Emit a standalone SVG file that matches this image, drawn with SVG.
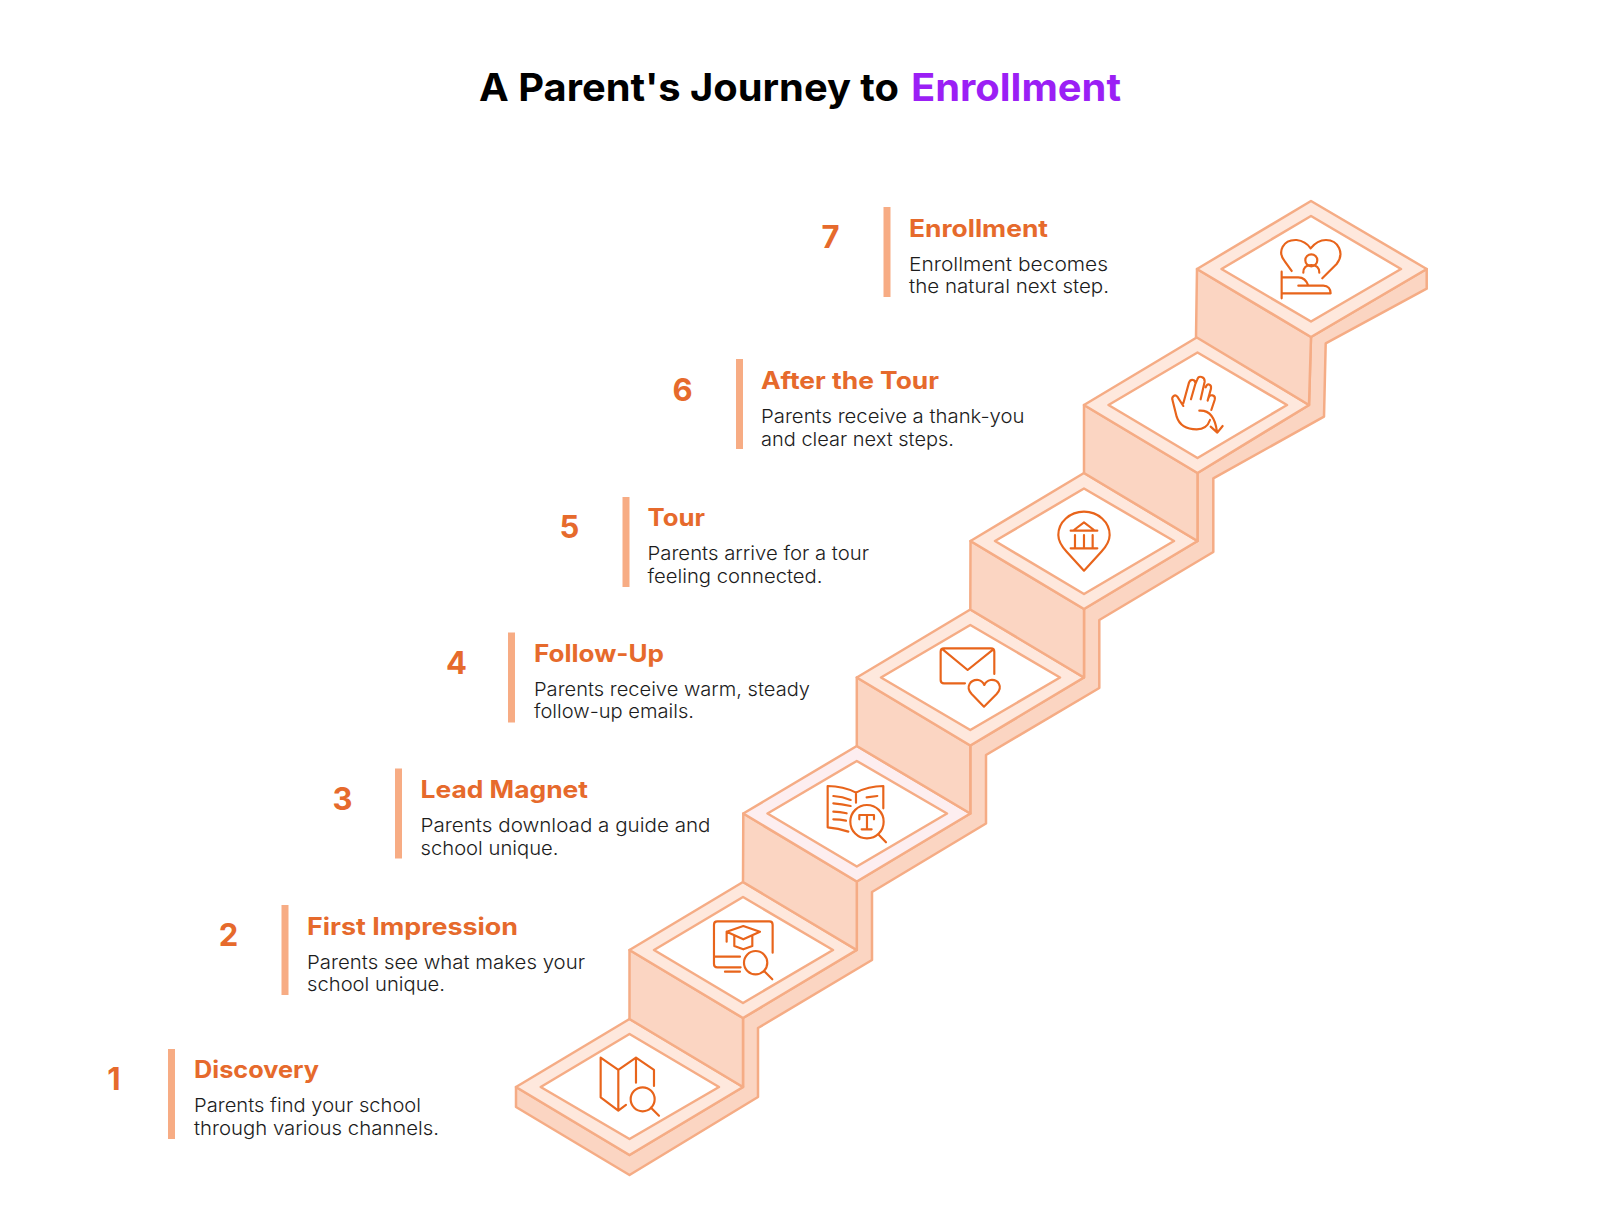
<svg xmlns="http://www.w3.org/2000/svg" width="1600" height="1223" viewBox="0 0 1600 1223">
<style>
text{font-family:Inter,"Liberation Sans",sans-serif}
.t{font-size:38px;font-weight:700}
.n{font-size:31px;font-weight:700;fill:#E66A2C;text-anchor:middle}
.h{font-size:24px;font-weight:700;fill:#E66A2C}
.b{font-size:19px;font-weight:300;fill:#1c1c1c}
.bar{fill:#F7AC84}
.s{stroke:#F5AC85;stroke-width:2.5;stroke-linejoin:round}
.w{fill:#FBD5C2}
.r{fill:#FEE8DD}
.i{fill:#fff}
.ic{fill:none;stroke:#E8641B;stroke-width:6.5;stroke-linecap:round;stroke-linejoin:round}
</style>
<rect width="1600" height="1223" fill="#fff"/>
<g id="title"><text class="t" x="479" y="101" textLength="420" lengthAdjust="spacingAndGlyphs" fill="#000">A Parent's Journey to</text><text class="t" x="911" y="101" textLength="210" lengthAdjust="spacingAndGlyphs" fill="#9B1FF5">Enrollment</text></g>
<g id="stair-side"><path class="s w" d="M516 1087V1107L629.500 1175L758 1097V1028L872 960V892L986 823.500V755L1099.300 688V620L1213.300 552V478.300L1324 416.700L1325.700 343.300L1426.700 288.700V269L1311 337L1309 405L1197.500 473V541L1084 609V677.500L970.300 745.500V813.500L856.800 881.500V950L743 1018V1087L629.500 1155Z"/></g>

<g id="step-1">
<path class="s r" d="M516 1087L629.500 1019L743 1087L629.500 1155Z"/><path class="s i" d="M540.700 1087L629.500 1034L719 1087L629.500 1139Z"/>
<g class="ic" transform="translate(500 880) scale(.3333)"><path d="M378 675L355 692L302 652V533L355 570V692M355 570L408 533L462 570V618M408 533V608"/><circle cx="428" cy="658" r="36"/><path d="M453 683L477 707"/></g>
<rect class="bar" x="168" y="1049" width="7" height="90"/>
<text class="n" x="114" y="1090">1</text>
<text class="h" x="194" y="1078" textLength="125" lengthAdjust="spacingAndGlyphs">Discovery</text>
<text class="b" x="194" y="1112" textLength="227" lengthAdjust="spacingAndGlyphs">Parents find your school</text>
<text class="b" x="194" y="1135" textLength="245" lengthAdjust="spacingAndGlyphs">through various channels.</text>
</g>

<g id="step-2">
<path class="s w" d="M629.500 950L743 1018V1087L629.500 1019Z"/>
<path class="s r" d="M629.500 950L743 882L856.500 950L743 1018Z"/><path class="s i" d="M654 950L743 897L833 950L743 1003Z"/>
<g class="ic" transform="translate(500 880) scale(.3333)"><path d="M818 218V134Q818 124 808 124H652Q642 124 642 134V252Q642 262 652 262H722M645 230H720M675 275H720M680 185V155L730 138L780 155L730 178L680 155M703 168V198L730 208L757 198V168"/><circle cx="767" cy="248" r="35"/><path d="M793 274L817 298"/></g>
<rect class="bar" x="281.500" y="905" width="7" height="90"/>
<text class="n" x="228.500" y="946">2</text>
<text class="h" x="307" y="934.500" textLength="211" lengthAdjust="spacingAndGlyphs">First Impression</text>
<text class="b" x="307" y="968.500" textLength="278" lengthAdjust="spacingAndGlyphs">Parents see what makes your</text>
<text class="b" x="307" y="991" textLength="138" lengthAdjust="spacingAndGlyphs">school unique.</text>
</g>

<g id="step-3">
<path class="s w" d="M743.300 813.500L856.800 881.500V950L743 882Z"/>
<path class="s" fill="#FDEEF0" d="M743.300 813.500L856.800 746L970.300 813.500L856.800 881.500Z"/><path class="s i" d="M767.500 813.500L856.800 761L947 813.500L856.800 866.500Z"/>
<g class="ic" transform="translate(720 620) scale(.3333)"><path d="M385 635Q355 625 323 622V498Q370 498 408 518Q445 498 490 498V565M408 518V548M340 528Q368 530 392 540M340 550Q365 552 392 558M340 575Q360 575 380 580M340 598Q360 598 378 602M440 532L472 528M418 598V585H462V598M441 585V628M425 628H455"/><circle cx="441" cy="605" r="50"/><path d="M477 645L498 667"/></g>
<rect class="bar" x="395" y="768.500" width="7" height="90"/>
<text class="n" x="342.500" y="809.500">3</text>
<text class="h" x="420.500" y="798" textLength="167.500" lengthAdjust="spacingAndGlyphs">Lead Magnet</text>
<text class="b" x="420.500" y="831.500" textLength="290" lengthAdjust="spacingAndGlyphs">Parents download a guide and</text>
<text class="b" x="420.500" y="854.500" textLength="138" lengthAdjust="spacingAndGlyphs">school unique.</text>
</g>

<g id="step-4">
<path class="s w" d="M856.800 677.500L970.300 745.500V813.500L856.800 746Z"/>
<path class="s r" d="M856.800 677.500L970.300 609.500L1083.800 677.500L970.300 745.500Z"/><path class="s i" d="M881 677.500L970.300 625L1060 677.500L970.300 730Z"/>
<g class="ic" transform="translate(720 620) scale(.3333)"><path d="M735 190H672Q662 190 662 180V95Q662 85 672 85H813Q823 85 823 95V162M668 88L743 150L820 88M792 260L755 222C735 200 752 178 775 180C785 182 790 188 793 195C796 188 802 182 812 180C835 178 850 200 830 222Z"/></g>
<rect class="bar" x="508" y="632.500" width="7" height="90"/>
<text class="n" x="456.500" y="673.500">4</text>
<text class="h" x="534" y="661.500" textLength="130" lengthAdjust="spacingAndGlyphs">Follow-Up</text>
<text class="b" x="534" y="695.500" textLength="276" lengthAdjust="spacingAndGlyphs">Parents receive warm, steady</text>
<text class="b" x="534" y="718" textLength="160" lengthAdjust="spacingAndGlyphs">follow-up emails.</text>
</g>

<g id="step-5">
<path class="s w" d="M970.500 541L1084 609V677.500L970.300 609.500Z"/>
<path class="s r" d="M970.500 541L1084 473L1197.500 541L1084 609Z"/><path class="s i" d="M995 541L1084 488.500L1174 541L1084 594Z"/>
<g class="ic" transform="translate(950 450) scale(.3333)"><path d="M402 362L350 305C333 287 325 272 325 255A77 70 0 0 1 479 255C479 272 471 287 454 305ZM362 242H442M372 240L402 217L432 240M375 255V292M402 255V292M428 255V292M362 295H442"/></g>
<rect class="bar" x="622.500" y="497" width="7" height="90"/>
<text class="n" x="569.500" y="538">5</text>
<text class="h" x="647.500" y="526" textLength="57.500" lengthAdjust="spacingAndGlyphs">Tour</text>
<text class="b" x="647.500" y="560" textLength="221.500" lengthAdjust="spacingAndGlyphs">Parents arrive for a tour</text>
<text class="b" x="647.500" y="582.500" textLength="175" lengthAdjust="spacingAndGlyphs">feeling connected.</text>
</g>

<g id="step-6">
<path class="s w" d="M1084 405L1197.500 473V541L1084 473Z"/>
<path class="s r" d="M1084 405L1197.500 337L1309 405L1197.500 473Z"/><path class="s i" d="M1108.500 405L1197.500 352.500L1287 405L1197.500 458Z"/>
<g class="ic" transform="translate(1040 190) scale(.3333)"><path d="M430 648L412 620C405 612 393 620 398 632L410 680C418 705 440 718 470 718C492 718 505 705 510 690M430 640L447 578C452 565 468 568 466 582L453 628M466 582L472 568C476 555 495 560 494 575L482 628M497 592C502 578 515 582 513 596L503 632M505 625C510 610 528 615 524 630L514 660M478 662C505 660 525 680 531 725M512 710L532 728L548 708"/></g>
<rect class="bar" x="736" y="359" width="7" height="90"/>
<text class="n" x="682.500" y="401">6</text>
<text class="h" x="761" y="389" textLength="178" lengthAdjust="spacingAndGlyphs">After the Tour</text>
<text class="b" x="761" y="423" textLength="263.500" lengthAdjust="spacingAndGlyphs">Parents receive a thank-you</text>
<text class="b" x="761" y="446" textLength="193" lengthAdjust="spacingAndGlyphs">and clear next steps.</text>
</g>

<g id="step-7">
<path class="s w" d="M1197 269L1311 337L1309 405L1196 337Z"/>
<path class="s r" d="M1197 269L1311 201L1426.700 269L1311 337Z"/><path class="s i" d="M1221.500 269L1311 216L1401 269L1311 321.500Z"/>
<g class="ic" transform="translate(1040 190) scale(.3333)"><path d="M755 243L735 215C710 185 730 148 770 150C790 152 805 165 812 175C820 165 835 150 858 150C895 150 915 190 890 222L847 265M790 248C790 232 800 225 814 225C828 225 838 232 838 248M725 245V325M725 262H775C790 262 800 272 805 287H775M805 287H850C865 287 872 298 872 310H725"/><circle cx="814" cy="211" r="18"/></g>
<rect class="bar" x="883.500" y="207" width="7" height="90"/>
<text class="n" x="830.500" y="248">7</text>
<text class="h" x="909" y="236.500" textLength="139" lengthAdjust="spacingAndGlyphs">Enrollment</text>
<text class="b" x="909" y="270.500" textLength="199" lengthAdjust="spacingAndGlyphs">Enrollment becomes</text>
<text class="b" x="909" y="293" textLength="200" lengthAdjust="spacingAndGlyphs">the natural next step.</text>
</g>
</svg>
